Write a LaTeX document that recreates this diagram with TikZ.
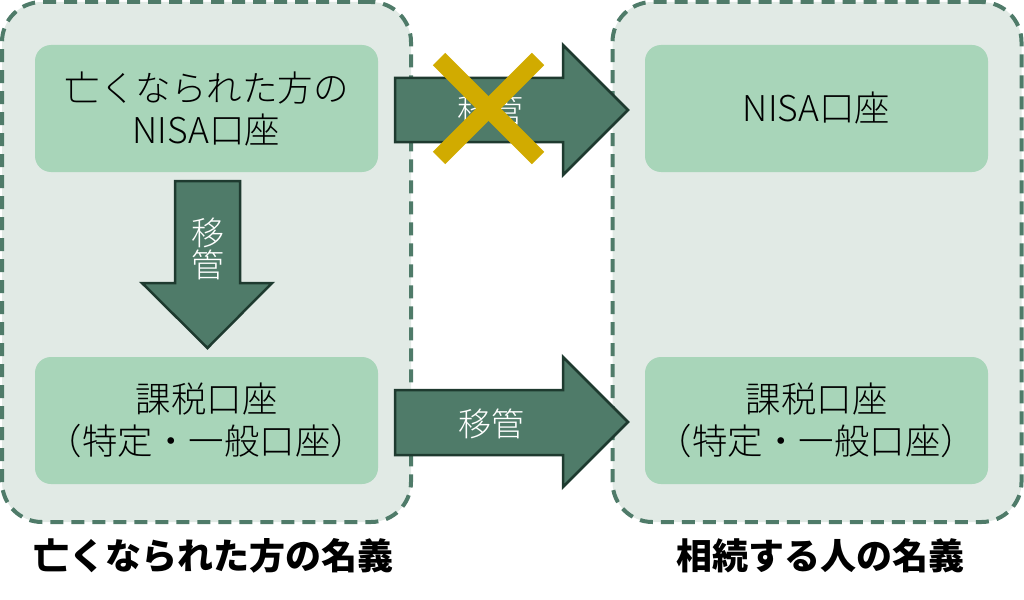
\documentclass[tikz,border=0pt]{standalone}
\usepackage{fontspec}
\setmainfont{Noto Sans CJK JP}
\newfontfamily\jplight{Noto Sans CJK JP Light}
\definecolor{outerfill}{HTML}{E1EAE5}
\definecolor{outerline}{HTML}{4F7B69}
\definecolor{innerfill}{HTML}{A8D5B9}
\definecolor{arrowfill}{HTML}{4F7B69}
\definecolor{arrowline}{HTML}{1E3A2F}
\definecolor{crossc}{HTML}{D1AB00}
\begin{document}
\begin{tikzpicture}[x=1pt,y=-1pt,
  outerbox/.style={draw=outerline, fill=outerfill, line width=4pt, dash pattern=on 13pt off 8pt, rounded corners=40pt, minimum width=409pt, minimum height=520pt, inner sep=0pt},
  innerbox/.style={fill=innerfill, rounded corners=16pt, minimum width=343pt, minimum height=127pt, inner sep=0pt, align=center, font=\jplight\fontsize{35.5}{42}\selectfont},
  blockarrow/.style={fill=arrowfill, draw=arrowline, line width=2.5pt, line join=miter},
  arrowlabel/.style={text=white, font=\jplight\fontsize{33}{36}\selectfont, inner sep=0pt, align=center},
  crossline/.style={draw=crossc, line width=17.5pt},
  caption/.style={font=\fontsize{36}{40}\selectfont\bfseries, inner sep=0pt}]
\useasboundingbox (0,0) rectangle (1024,599);
% outer groups
\node[outerbox] (lgroup) at (206.5,262) {};
\node[outerbox] (rgroup) at (817,262) {};
% inner boxes
\node[innerbox] (lnisa) at (206.5,108.5) {亡くなられた方の\\NISA口座};
\node[innerbox] (ltax) at (206.5,420.5) {課税口座\\（特定・一般口座）};
\node[innerbox] (rnisa) at (816.5,108.5) {NISA口座};
\node[innerbox] (rtax) at (816.5,420.5) {課税口座\\（特定・一般口座）};
% down arrow
\draw[blockarrow] (175,181) -- (240,181) -- (240,283) -- (272,283) -- (207.5,348) -- (142,283) -- (175,283) -- cycle;
\node[arrowlabel] (dlabel) at (207.5,249) {移\\[-4pt]管};
% top right arrow
\draw[blockarrow] (395,78) -- (563,78) -- (563,45) -- (628,110) -- (563,175) -- (563,142) -- (395,142) -- cycle;
\node[arrowlabel] (tlabel) at (490,110) {移管};
% bottom right arrow
\draw[blockarrow] (395,390) -- (563,390) -- (563,357) -- (628,422) -- (563,487) -- (563,455) -- (395,455) -- cycle;
\node[arrowlabel] (blabel) at (491,424) {移管};
% cross
\draw[crossline] (439,59) -- (538,158);
\draw[crossline] (538,59) -- (439,158);
% captions
\node[caption] (lcap) at (213,556) {亡くなられた方の名義};
\node[caption] (rcap) at (820,556) {相続する人の名義};
\end{tikzpicture}
\end{document}
